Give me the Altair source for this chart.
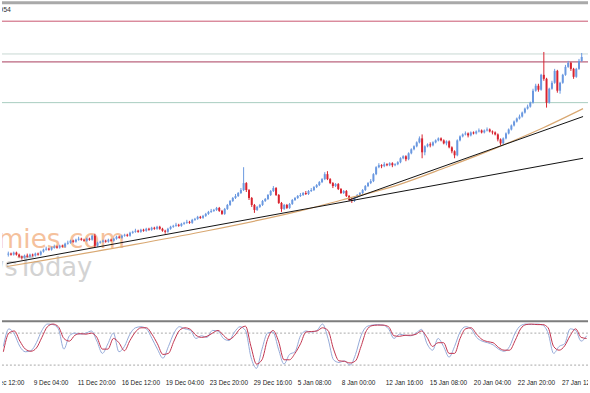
import altair as alt
import pandas as pd

# ---------------- candle data (H4 bars, arbitrary price units) ----------------
opens = [
    145,146,145,147,145,143,142,144,143,145,
    144,146,145,148,150,151,150,152,153,152,
    154,153,156,157,159,158,160,161,160,159,
    161,160,164,154,157,158,159,158,160,159,
    161,163,162,164,165,164,167,168,169,168,
    170,169,171,170,172,171,173,171,169,168,
    171,173,174,175,174,176,177,178,177,180,
    181,183,182,184,186,188,189,190,192,189,
    186,191,195,199,202,204,207,210,217,210,
    202,195,190,193,195,199,201,205,209,212,
    205,197,191,195,192,196,200,202,204,205,
    207,206,209,210,213,215,218,221,226,221,
    217,214,216,211,207,209,204,200,199,203,
    205,207,210,214,217,219,226,233,235,234,
    236,235,237,235,236,238,242,244,241,247,
    251,254,258,262,248,254,256,255,258,260,
    262,260,257,259,253,249,245,260,264,266,
    267,265,268,267,269,270,268,270,271,269,
    268,266,261,257,262,267,271,275,279,282,
    284,288,292,294,298,310,315,311,326,322,
    298,312,318,330,310,318,326,334,338,332,
    324,332,340,
]
closes = [
    146,145,147,145,143,142,144,143,145,144,
    146,145,148,150,151,150,152,153,152,154,
    153,156,157,159,158,160,161,160,159,161,
    160,164,154,157,158,159,158,160,159,161,
    163,162,164,165,164,167,168,169,168,170,
    169,171,170,172,171,173,171,169,168,171,
    173,174,175,174,176,177,178,177,180,181,
    183,182,184,186,188,189,190,192,189,186,
    191,195,199,202,204,207,210,217,210,202,
    195,190,193,195,199,201,205,209,212,205,
    197,191,195,192,196,200,202,204,205,207,
    206,209,210,213,215,218,221,226,221,217,
    214,216,211,207,209,204,200,199,203,205,
    207,210,214,217,219,226,233,235,234,236,
    235,237,235,236,238,242,244,241,247,251,
    254,258,262,248,254,256,255,258,260,262,
    260,257,259,253,249,245,260,264,266,267,
    265,268,267,269,270,268,270,271,269,268,
    266,261,257,262,267,271,275,279,282,284,
    288,292,294,298,310,315,311,326,322,298,
    312,318,330,310,318,326,334,338,332,324,
    332,340,344,
]
highs = [
    148,147,148,148,146,144,145,146,146,146,
    147,147,149,151,153,152,153,155,154,155,
    155,157,159,160,160,161,163,162,161,162,
    162,165,166,158,159,160,160,161,161,162,
    164,164,165,166,166,168,169,171,170,171,
    171,172,172,173,173,174,174,172,170,172,
    174,175,177,176,177,178,180,179,181,182,
    184,184,185,187,189,191,191,193,193,190,
    192,196,200,203,206,208,212,233,218,211,
    203,196,194,196,200,202,206,210,214,213,
    206,198,196,196,197,201,203,205,207,208,
    209,210,212,214,216,219,222,228,229,222,
    218,217,217,212,210,210,205,202,204,206,
    208,211,215,218,221,227,234,237,236,238,
    237,238,238,237,239,243,245,245,248,252,
    255,259,264,266,255,257,258,259,261,263,
    263,261,260,260,254,250,261,265,267,269,
    268,269,269,270,272,271,271,273,272,270,
    269,267,262,263,268,272,276,280,283,286,
    289,293,296,299,312,317,317,327,349,323,
    313,320,332,331,319,327,336,340,339,333,
    333,342,348,
]
lows = [
    143,144,144,144,142,140,141,142,142,143,
    143,144,144,147,149,149,149,151,151,151,
    152,152,155,156,157,157,159,159,158,158,
    159,159,152,153,156,157,157,157,158,158,
    160,161,161,163,163,163,166,167,167,167,
    168,168,169,169,170,170,170,168,166,167,
    170,172,173,173,173,175,176,176,176,179,
    180,181,181,183,185,187,188,189,188,185,
    185,190,194,198,201,203,206,209,208,200,
    193,187,189,192,194,198,200,204,208,204,
    196,188,190,191,191,195,199,201,203,204,
    205,205,208,209,212,214,217,220,220,216,
    212,213,210,206,206,203,199,197,198,202,
    204,206,209,213,216,218,225,232,232,233,
    234,234,233,234,235,237,241,239,240,246,
    250,253,257,242,245,253,253,254,257,259,
    259,256,255,252,247,242,244,259,263,265,
    263,264,266,266,268,267,267,269,268,266,
    265,259,255,256,261,266,270,274,278,281,
    283,287,291,293,297,309,309,310,320,293,
    297,311,317,308,307,317,325,333,330,322,
    323,331,339,
]

# ---------------- drawn lines ----------------
level_values = [380, 347, 339, 298]
level_colors = ["#c9566f", "#c9d8d4", "#a83c5c", "#a7cdbf"]

ma_bars = [-0.5, 46.4, 71.7, 107.8, 123.3, 143.9, 162, 180, 198, 212.5]
ma_values = [133, 155, 168, 189, 200, 215, 233, 252, 273, 292]

trend1_bars = [-0.5, 212.5]
trend1_values = [136, 242]
trend2_bars = [126, 212.5]
trend2_values = [200, 284]

# ---------------- stochastic (every second bar) ----------------
stoch_main = [
    55,88,78,55,45,47,62,85,97,96,
    88,50,75,80,78,80,84,65,42,60,
    80,45,55,78,90,92,88,70,50,33,
    55,80,92,88,85,70,75,72,85,84,
    70,66,82,92,85,35,14,50,80,82,
    50,22,40,45,75,84,82,85,97,70,
    30,25,28,20,40,75,92,95,96,95,
    88,70,78,76,75,80,87,60,48,70,
    55,35,55,82,92,88,72,65,62,58,
    50,46,55,80,94,97,96,97,95,80,
    42,55,60,88,85,65,75,
]
stoch_signal = [
    45,80,84,65,50,46,52,72,92,97,
    92,70,65,76,79,78,80,72,50,50,
    70,62,47,66,82,90,90,78,60,40,
    42,65,85,90,87,76,72,74,80,85,
    76,68,75,88,93,55,22,30,68,85,
    65,30,30,42,60,82,83,84,90,85,
    50,28,27,24,28,55,85,94,95,95,
    92,75,74,76,76,78,84,72,55,62,
    62,42,42,70,88,90,78,68,64,62,
    53,48,48,66,88,96,97,96,96,90,
    55,48,56,75,88,72,70,
]
stoch_levels = [80, 20]

# ---------------- time labels ----------------
label_bars = [-5, 11, 27, 43, 59, 75, 91, 107, 123, 139, 155, 171, 187, 203]
label_texts = ["4 Dec 12:00", "9 Dec 04:00", "11 Dec 20:00", "16 Dec 12:00",
               "19 Dec 04:00", "23 Dec 20:00", "29 Dec 16:00", "5 Jan 08:00",
               "8 Jan 00:00", "12 Jan 16:00", "15 Jan 08:00", "20 Jan 04:00",
               "22 Jan 20:00", "27 Jan 12:00"]

# ---------------- build tables ----------------
candles = pd.DataFrame({
    "bar": list(range(len(closes))),
    "open": opens, "high": highs, "low": lows, "close": closes,
})
candles["dir"] = ["up" if c >= o else "down" for o, c in zip(opens, closes)]

levels = pd.DataFrame({"price": level_values, "col": level_colors})
ma = pd.DataFrame({"bar": ma_bars, "price": ma_values})
tr1 = pd.DataFrame({"bar": trend1_bars, "price": trend1_values})
tr2 = pd.DataFrame({"bar": trend2_bars, "price": trend2_values})
stoch = pd.DataFrame({
    "bar": list(range(0, 2 * len(stoch_main), 2)),
    "main": stoch_main, "signal": stoch_signal,
})
slev = pd.DataFrame({"v": stoch_levels})
labels = pd.DataFrame({"bar": label_bars, "t": label_texts})

W = 590
xs = alt.Scale(domain=[-0.5, 212.5], nice=False, zero=False)
ys = alt.Scale(domain=[82, 400], nice=False, zero=False)
X = alt.X("bar:Q", scale=xs, axis=None)
col = alt.Color("dir:N", scale=alt.Scale(domain=["up", "down"], range=["#6a98e0", "#d8232f"]), legend=None)

one = pd.DataFrame({"t": ["x"]})

wm1 = alt.Chart(pd.DataFrame({"t": ["Economies.com"]})).mark_text(
    align="right", baseline="alphabetic", fontSize=26.5, font="DejaVu Sans",
    color="#f5c19c", clip=True).encode(text="t:N", x=alt.value(124), y=alt.value(248))
wm2 = alt.Chart(pd.DataFrame({"t": ["NewsToday"]})).mark_text(
    align="right", baseline="alphabetic", fontSize=26, font="DejaVu Sans",
    color="#d3d3d3", clip=True).encode(text="t:N", x=alt.value(91), y=alt.value(277))
corner = alt.Chart(pd.DataFrame({"t": ["1.2954"]})).mark_text(
    align="right", baseline="alphabetic", fontSize=7, font="Liberation Sans",
    color="#333333", clip=True).encode(text="t:N", x=alt.value(9), y=alt.value(11))
topbar = alt.Chart(one).mark_rule(color="#a9a9a9", strokeWidth=3).encode(
    x=alt.value(0), x2=alt.value(W), y=alt.value(1.5))

lev = alt.Chart(levels).mark_rule(strokeWidth=1).encode(
    y=alt.Y("price:Q", scale=ys, axis=None), color=alt.Color("col:N", scale=None))
wick = alt.Chart(candles).mark_rule(strokeWidth=1).encode(
    x=X, y=alt.Y("low:Q", scale=ys, axis=None), y2="high:Q", color=col)
body = alt.Chart(candles).mark_bar(size=2).encode(
    x=X, y=alt.Y("open:Q", scale=ys, axis=None), y2="close:Q", color=col)
ma_line = alt.Chart(ma).mark_line(color="#d9a872", strokeWidth=1.2, interpolate="monotone", clip=True).encode(
    x=X, y=alt.Y("price:Q", scale=ys, axis=None))
t1 = alt.Chart(tr1).mark_line(color="#111111", strokeWidth=1, clip=True).encode(
    x=X, y=alt.Y("price:Q", scale=ys, axis=None))
t2 = alt.Chart(tr2).mark_line(color="#111111", strokeWidth=1, clip=True).encode(
    x=X, y=alt.Y("price:Q", scale=ys, axis=None))

main = alt.layer(wm1, wm2, lev, wick, body, ma_line, t1, t2, corner, topbar).properties(width=W, height=318)

ss = alt.Scale(domain=[-1.9, 109.9], nice=False, zero=False)
sl = alt.Chart(slev).mark_rule(color="#a8a8a8", strokeWidth=1, strokeDash=[2, 2]).encode(
    y=alt.Y("v:Q", scale=ss, axis=None))
kline = alt.Chart(stoch).mark_line(color="#94a9d8", strokeWidth=1, interpolate="monotone").encode(
    x=X, y=alt.Y("main:Q", scale=ss, axis=None))
dline = alt.Chart(stoch).mark_line(color="#c2344f", strokeWidth=1, interpolate="monotone").encode(
    x=X, y=alt.Y("signal:Q", scale=ss, axis=None))
border = alt.Chart(one).mark_rule(color="#7d7d7d", strokeWidth=2).encode(
    x=alt.value(0), x2=alt.value(W), y=alt.value(4))
sub = alt.layer(sl, kline, dline, border).properties(width=W, height=60)

lab = alt.Chart(labels).mark_text(align="left", baseline="middle", fontSize=6.5,
                                  font="Liberation Sans", color="#222222", clip=True).encode(
    x=X, y=alt.value(6), text="t:N").properties(width=W, height=15)

chart = alt.vconcat(main, sub, lab, spacing=0).properties(
    padding=0, background="white"
).configure_view(stroke=None)

chart.save("out.html", embed_options={"renderer": "svg", "actions": False})
